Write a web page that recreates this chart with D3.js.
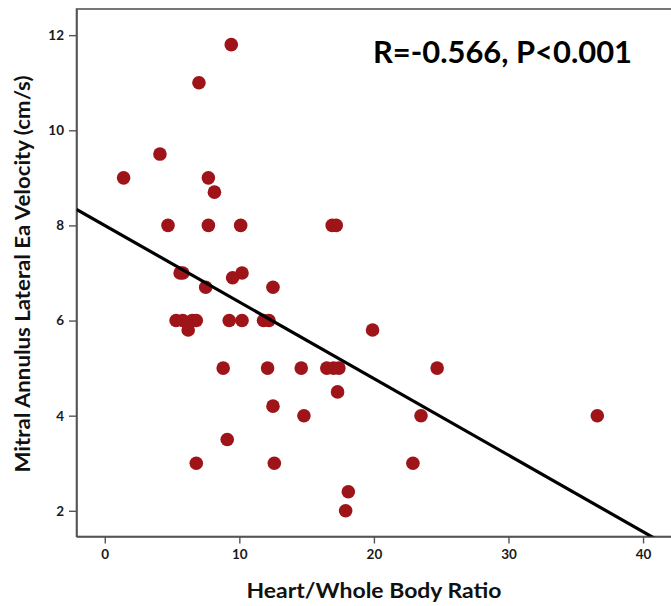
<!DOCTYPE html>
<html>
<head>
<meta charset="utf-8">
<script src="https://cdn.jsdelivr.net/npm/d3@7"></script>
<style>
  body { margin: 0; background: #fff; }
  svg text { font-family: Lato, "Open Sans", sans-serif; font-weight: bold; }
</style>
</head>
<body>
<div class="chart"></div>
<script>
// values
const ratio = [9.4, 7.0, 4.1, 1.4, 7.7, 8.15, 4.7, 7.7, 10.1, 16.9, 17.2,
  5.6, 5.8, 10.2, 9.5, 7.5, 12.5,
  5.3, 5.8, 6.5, 6.8, 6.2, 9.25, 10.2, 11.8, 12.2, 19.9,
  8.8, 12.1, 14.6, 16.5, 17.0, 17.4, 24.7,
  17.3, 12.5, 14.8, 23.5, 36.6, 9.1, 6.8, 12.6, 22.9, 18.1, 17.9]
const velocity = [11.8, 11.0, 9.5, 9.0, 9.0, 8.7, 8.0, 8.0, 8.0, 8.0, 8.0,
  7.0, 7.0, 7.0, 6.9, 6.7, 6.7,
  6.0, 6.0, 6.0, 6.0, 5.8, 6.0, 6.0, 6.0, 6.0, 5.8,
  5.0, 5.0, 5.0, 5.0, 5.0, 5.0, 5.0,
  4.5, 4.2, 4.0, 4.0, 4.0, 3.5, 3.0, 3.0, 3.0, 2.4, 2.0]

const xTicks = [0, 10, 20, 30, 40]
const yTicks = [2, 4, 6, 8, 10, 12]

// fitted line as drawn: velocity = intercept + slope * ratio
const fitIntercept = 8.0
const fitSlope = -0.161

const statText = "R=-0.566, P<0.001"

// plot frame runs past the right edge of the picture
const margin = {top: 9, bottom: 69.5, left: 76.5},
    width = 674 - margin.left,
    height = 606 - margin.top - margin.bottom

const x = d3.scaleLinear()
    .domain([-2.1, 42.3])
    .range([0, width])

const y = d3.scaleLinear()
    .domain([1.46, 12.55])
    .range([height, 0])

const svg = d3.select(".chart").append("svg")
    .attr("width", 671)
    .attr("height", 606)

const g = svg.append("g")
    .attr("transform", "translate(" + margin.left + "," + margin.top + ")")

g.append("clipPath")
    .attr("id", "plotclip")
  .append("rect")
    .attr("width", width)
    .attr("height", height)

// frame around the plot area
g.append("rect")
    .attr("width", width)
    .attr("height", height)
    .attr("fill", "none")
    .attr("stroke", "#555")
    .attr("stroke-width", 1.6)

const xAxis = g.append("g")
    .attr("transform", "translate(0," + height + ")")
    .call(d3.axisBottom(x).tickValues(xTicks).tickSize(7).tickPadding(6).tickSizeOuter(0))

const yAxis = g.append("g")
    .call(d3.axisLeft(y).tickValues(yTicks).tickSize(7.5).tickPadding(5).tickSizeOuter(0))

;[xAxis, yAxis].forEach(a => {
    a.select(".domain").attr("stroke", "#555").attr("stroke-width", 1.6)
    a.selectAll(".tick line").attr("stroke", "#555").attr("stroke-width", 1.4)
    a.selectAll(".tick text")
        .attr("fill", "#1a1a1a")
        .style("font-size", "13.5px")
})

// points
g.append("g")
    .selectAll("circle")
    .data(ratio.map((r, i) => ({r: r, v: velocity[i]})))
    .enter().append("circle")
        .attr("cx", d => x(d.r))
        .attr("cy", d => y(d.v))
        .attr("r", 6.8)
        .attr("fill", "#9e1418")

// regression line across the whole plot
const xs = x.domain()
g.append("line")
    .attr("clip-path", "url(#plotclip)")
    .attr("x1", x(xs[0]))
    .attr("y1", y(fitIntercept + fitSlope * xs[0]))
    .attr("x2", x(xs[1]))
    .attr("y2", y(fitIntercept + fitSlope * xs[1]))
    .attr("stroke", "#000")
    .attr("stroke-width", 3.2)

// statistics label
svg.append("text")
    .attr("x", 373)
    .attr("y", 63)
    .attr("textLength", 259)
    .attr("lengthAdjust", "spacingAndGlyphs")
    .style("font-size", "31px")
    .attr("fill", "#000")
    .text(statText)

// axis titles
svg.append("text")
    .attr("x", 374)
    .attr("y", 597.5)
    .attr("text-anchor", "middle")
    .attr("textLength", 255)
    .attr("lengthAdjust", "spacingAndGlyphs")
    .style("font-size", "20.5px")
    .attr("fill", "#111")
    .text("Heart/Whole Body Ratio")

svg.append("text")
    .attr("transform", "translate(30,274) rotate(-90)")
    .attr("text-anchor", "middle")
    .attr("textLength", 397)
    .attr("lengthAdjust", "spacingAndGlyphs")
    .style("font-size", "20.5px")
    .attr("fill", "#111")
    .text("Mitral Annulus Lateral Ea Velocity (cm/s)")
</script>
</body>
</html>
